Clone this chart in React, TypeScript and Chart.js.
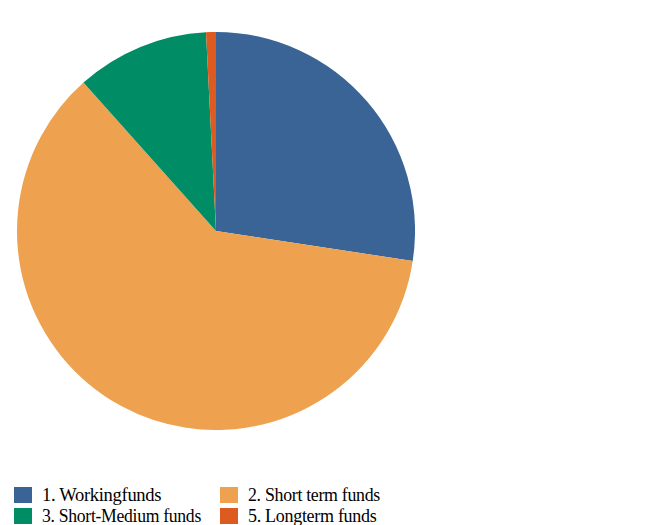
import React, { useEffect, useRef } from "react";
import { Chart, registerables } from "chart.js";

Chart.register(...registerables);

const categories = ["1. Workingfunds", "2. Short term funds", "3. Short-Medium funds", "5. Longterm funds"];
const values = [27.4, 61.0, 10.8, 0.8];
const colors = ["#3a6496", "#eea14f", "#008d66", "#dd5a20"];

const labelScaleX = [1.03, 0.99, 0.98, 1.0];

export default function App() {
  const ref = useRef<HTMLCanvasElement | null>(null);
  useEffect(() => {
    if (!ref.current) return;
    const chart = new Chart(ref.current, {
      type: "pie",
      data: {
        labels: categories,
        datasets: [{ data: values, backgroundColor: colors, borderWidth: 0 }],
      },
      options: {
        responsive: false,
        animation: false,
        layout: { padding: 0 },
        plugins: { legend: { display: false }, tooltip: { enabled: false } },
      },
    });
    return () => chart.destroy();
  }, []);

  const legendOrder = [
    [0, 1],
    [2, 3],
  ];
  return (
    <div style={{ position: "absolute", left: 0, top: 0, width: 652, height: 525, background: "#fff", overflow: "hidden" }}>
      <canvas ref={ref} width={398} height={398} style={{ position: "absolute", left: 17, top: 32, width: 398, height: 398 }} />
      {legendOrder.map((row, r) =>
        row.map((idx, c) => (
          <div
            key={idx}
            style={{
              position: "absolute",
              left: c === 0 ? 14 : 220,
              top: 486 + r * 21,
              height: 18,
              display: "flex",
              alignItems: "center",
              fontFamily: "Liberation Serif",
              fontSize: 18,
              letterSpacing: -0.3,
              color: "#000",
              whiteSpace: "nowrap",
            }}
          >
            <span style={{ display: "inline-block", width: 18, height: 16, background: colors[idx], marginRight: 10 }} />
            <span style={{ display: "inline-block", transform: `scaleX(${labelScaleX[idx]})`, transformOrigin: "left center" }}>
              {categories[idx]}
            </span>
          </div>
        ))
      )}
    </div>
  );
}
